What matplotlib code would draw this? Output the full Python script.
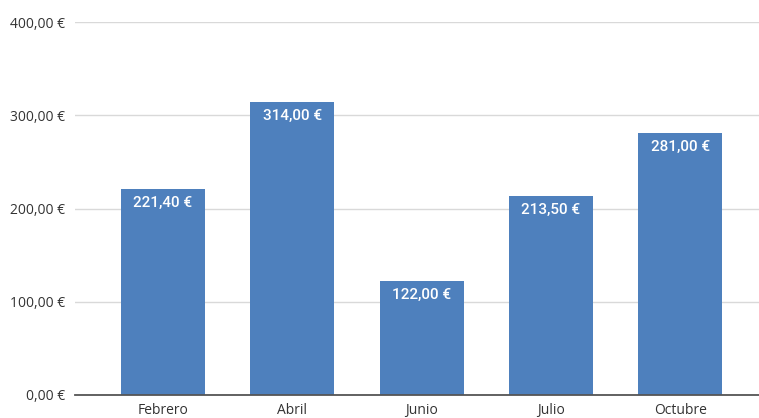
import matplotlib
matplotlib.use("Agg")
import matplotlib.pyplot as plt
import numpy as np

months = ["Febrero", "Abril", "Junio", "Julio", "Octubre"]
amounts = [221.40, 314.00, 122.00, 213.50, 281.00]
yticks = [0, 100, 200, 300, 400]


def euro(v):
    return f"{v:,.2f} €".replace(",", "X").replace(".", ",").replace("X", ".")


fig = plt.figure(figsize=(7.59, 4.18), dpi=100)
ax = fig.add_axes([75 / 759, 23 / 418, 684 / 759, 373 / 418])

x = np.arange(len(months))
bars = ax.bar(x, amounts, width=0.65, color="#4e80bd", zorder=3)

# value labels inside the top of each bar
for b, v in zip(bars, amounts):
    ax.annotate(euro(v), (b.get_x() + b.get_width() / 2, v),
                xytext=(0, -14), textcoords="offset pixels",
                ha="center", va="center", color="white",
                fontsize=11, fontfamily="Roboto", fontweight="medium", zorder=4)

ax.set_xlim(-0.681, 4.61)
ax.set_ylim(0, 400)
ax.set_yticks(yticks)
ax.set_yticklabels([euro(t) for t in yticks])
ax.set_xticks(x)
ax.set_xticklabels(months)

ax.grid(axis="y", color="#d9d9d9", linewidth=1, zorder=0)
ax.tick_params(length=0, labelsize=10, colors="#333333")
ax.tick_params(axis="y", pad=7)
ax.tick_params(axis="x", pad=6)
for lab in ax.get_xticklabels() + ax.get_yticklabels():
    lab.set_fontfamily("Open Sans")

for s in ["top", "right", "left"]:
    ax.spines[s].set_visible(False)
ax.spines["bottom"].set_color("#555555")
ax.spines["bottom"].set_linewidth(1.3)
ax.spines["bottom"].set_zorder(5)

plt.savefig("out.png", dpi=100)
